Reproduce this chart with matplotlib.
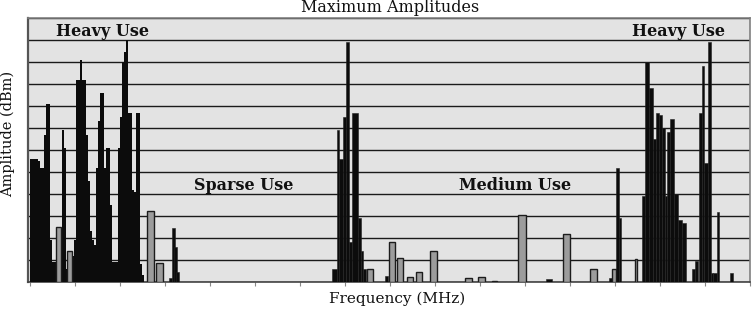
import numpy as np
import matplotlib
matplotlib.use("Agg")
import matplotlib.pyplot as plt

# frequency axis in channel units (no labels on the original), amplitude in grid steps
# heavy-use band on the left: dense sweep, one value every 2 channels
heavy_lo_freq = np.arange(1, 115, 2)
heavy_lo_amp = [5.6, 5.6, 5.6, 5.6, 5.5, 5.2, 5.2, 6.7, 8.1, 8.1,
                1.9, 0.9, 0.9, 0.8, 0.8, 0.8, 6.9, 6.1, 0.6, 0.6,
                0.6, 1.2, 1.9, 9.2, 9.2, 10.1, 9.2, 9.2, 6.7, 4.6,
                2.3, 1.9, 1.7, 5.2, 7.3, 8.6, 8.6, 5.2, 6.1, 6.1,
                3.5, 0.9, 0.9, 0.9, 6.1, 7.5, 10.0, 10.45, 11.0, 7.7,
                7.7, 4.2, 4.1, 7.7, 7.7, 0.8, 0.3]

# single strong carriers (solid bars)
solid_freq = [140.5, 143, 145.5, 147.5,
              304.5, 308, 311, 314.5, 317.5, 320.5, 325, 329.5, 332, 334.5,
              356.5, 519, 581, 587.5, 590,
              613.5, 617, 621, 624.5, 627.5, 630.5, 633.5, 636, 638.5, 642,
              646, 650, 654, 663.5, 666.5, 670.5, 673, 676, 679.5, 682,
              685, 688, 701.5]
solid_amp = [0.2, 2.45, 1.6, 0.45,
             0.6, 6.9, 5.6, 7.5, 10.9, 1.8, 7.7, 2.9, 1.4, 0.6,
             0.27, 0.15, 0.2, 5.2, 2.9,
             3.9, 10.0, 8.8, 6.5, 7.7, 7.6, 7.0, 3.9, 6.8, 7.4,
             4.0, 2.8, 2.7, 0.6, 0.95, 7.7, 9.8, 5.4, 10.9, 0.4,
             0.4, 3.2, 0.4]
solid_bw = [3, 3, 2.5, 3,
            5, 2, 4, 3, 3, 3, 6, 3, 2, 3,
            3, 6, 4, 3, 2,
            3, 4, 4, 3, 3, 3, 3, 2, 3, 4,
            4, 4, 4, 3, 3, 3, 2, 4, 3, 2,
            4, 2, 3]

# weaker signals (hollow bars)
weak_freq = [28.5, 39.5, 120.5, 129.5, 340, 362, 370, 380, 389, 403.5,
             438.5, 451.5, 464.5, 492, 536.5, 563.5, 584, 606]
weak_amp = [2.5, 1.4, 3.25, 0.86, 0.6, 1.8, 1.1, 0.25, 0.45, 1.4,
            0.2, 0.25, 0.05, 3.05, 2.2, 0.6, 0.6, 1.05]
weak_bw = [5, 5, 7, 7, 6, 6, 6, 6, 6, 7,
           7, 7, 5, 8, 7, 7, 4, 2.5]

# region annotations: (text, x px centre, baseline y px)
regions = [("Heavy Use", 102, 36), ("Heavy Use", 678, 36),
           ("Sparse Use", 244, 190), ("Medium Use", 515, 190)]

W, H = 755, 314
plt.rcParams["font.family"] = ["DejaVu Serif"]
fig = plt.figure(figsize=(W / 100, H / 100), dpi=100)
ax = fig.add_axes([28 / W, 1 - 282 / H, 722 / W, 264 / H])
ax.set_facecolor("#e3e3e3")

ax.bar(heavy_lo_freq, heavy_lo_amp, width=2.3, color="#0c0c0c",
       linewidth=0, zorder=3)
ax.bar(solid_freq, solid_amp, width=solid_bw, color="#0c0c0c",
       edgecolor="#222222", linewidth=0.4, zorder=3)
ax.bar(weak_freq, weak_amp, width=weak_bw, color="#9c9c9c",
       edgecolor="#1c1c1c", linewidth=1.0, zorder=4)

ax.set_xlim(-2, 720)
ax.set_ylim(0, 12)
ax.set_yticks(np.arange(0, 13))
ax.set_xticks(np.arange(0, 721, 45))
ax.grid(axis="y", color="#1a1a1a", linewidth=1.0, zorder=1)
ax.set_axisbelow(True)
ax.tick_params(axis="y", length=0, labelleft=False)
ax.tick_params(axis="x", length=3, width=0.8, color="#888888",
               labelbottom=False)
for side in ["top", "right"]:
    ax.spines[side].set_color("#808080")
    ax.spines[side].set_linewidth(1.2)
ax.spines["left"].set_color("#555555")
ax.spines["left"].set_linewidth(1.6)
ax.spines["bottom"].set_color("#444444")
ax.spines["bottom"].set_linewidth(1.2)

fig.text(390 / W, 1 - 12 / H, "Maximum Amplitudes", ha="center",
         va="baseline", fontsize=11.5, color="#111111")
fig.text(397 / W, 1 - 303 / H, "Frequency (MHz)", ha="center",
         va="baseline", fontsize=11, color="#111111")
fig.text(8 / W, 1 - 134 / H, "Amplitude (dBm)", ha="center", va="center",
         rotation=90, fontsize=10.5, color="#111111")
for txt, px, py in regions:
    fig.text(px / W, 1 - py / H, txt, ha="center", va="baseline",
             fontsize=11.5, fontweight="bold", color="#111111")

fig.savefig("out.png", dpi=100)
